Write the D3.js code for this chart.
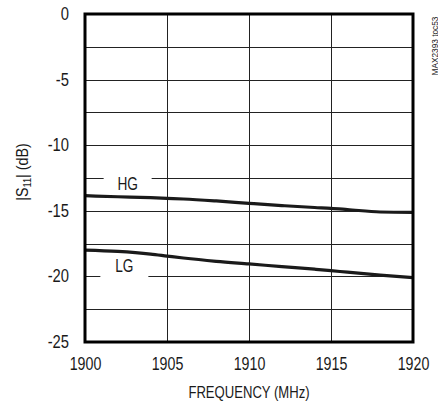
<!DOCTYPE html>
<html>
<head>
<meta charset="utf-8">
<script src="https://cdn.jsdelivr.net/npm/d3@7/dist/d3.min.js"></script>
<style>
  html, body { margin: 0; padding: 0; background: #fff; }
  svg { display: block; }
  text { font-family: "Liberation Sans", Arial, sans-serif; fill: #1a1a1a; }
</style>
</head>
<body>
<script>
// ---- data ----
const frequency = [1900, 1902, 1904, 1905, 1906, 1908, 1910, 1912, 1914, 1915, 1916, 1918, 1920];
const hgValues  = [-13.85, -13.93, -14.0, -14.05, -14.1, -14.25, -14.43, -14.6, -14.75, -14.81, -14.9, -15.09, -15.12];
const lgValues  = [-18.0, -18.1, -18.3, -18.45, -18.6, -18.85, -19.05, -19.25, -19.45, -19.56, -19.68, -19.9, -20.1];
const xTicks = [1900, 1905, 1910, 1915, 1920];
const yTicks = [0, -5, -10, -15, -20, -25];
const yGrid = [-2.5, -5, -7.5, -10, -12.5, -15, -17.5, -20, -22.5];
const seriesLabels = [
  { name: "HG", x: 1902.6, y: -12.91 },
  { name: "LG", x: 1902.4, y: -19.2 }
];

(function () {
const W = 438, H = 405;
const mLeft = 85, mRight = 413, mTop = 14, mBottom = 342;
const SQ = 0.8; // horizontal condensing of text (narrow typeface look)

function condense(sel, f) {
  sel.each(function () {
    const len = this.getComputedTextLength();
    d3.select(this).attr("textLength", len * (f || SQ)).attr("lengthAdjust", "spacingAndGlyphs");
  });
}

const svg = d3.select("body").append("svg").attr("width", W).attr("height", H);

const x = d3.scaleLinear().domain([1900, 1920]).range([mLeft, mRight]);
const y = d3.scaleLinear().domain([-25, 0]).range([mBottom, mTop]);

// grid
svg.append("g").selectAll("line").data(yGrid).join("line")
  .attr("x1", mLeft).attr("x2", mRight)
  .attr("y1", d => Math.round(y(d)) + 0.5).attr("y2", d => Math.round(y(d)) + 0.5)
  .attr("stroke", "#222").attr("stroke-width", 1);
svg.append("g").selectAll("line").data(xTicks.slice(1, -1)).join("line")
  .attr("y1", mTop).attr("y2", mBottom)
  .attr("x1", d => Math.round(x(d)) + 0.5).attr("x2", d => Math.round(x(d)) + 0.5)
  .attr("stroke", "#222").attr("stroke-width", 1);

// label backgrounds (break gridlines)
seriesLabels.forEach(s => {
  svg.append("rect")
    .attr("x", x(s.x) - 24).attr("y", y(s.y) - 12)
    .attr("width", 48).attr("height", 24)
    .attr("fill", "#fff");
});

// lines
const line = d3.line().x((d, i) => x(frequency[i])).y(d => y(d)).curve(d3.curveMonotoneX);
[hgValues, lgValues].forEach(vals => {
  svg.append("path").datum(vals).attr("d", line)
    .attr("fill", "none").attr("stroke", "#1a1a1a").attr("stroke-width", 3.2);
});

// series labels
seriesLabels.forEach(s => {
  const t = svg.append("text").attr("x", x(s.x)).attr("y", y(s.y) + 6.5)
    .attr("text-anchor", "middle").attr("font-size", 18).text(s.name);
  condense(t, 0.76);
});

// frame
svg.append("rect").attr("x", mLeft).attr("y", mTop)
  .attr("width", mRight - mLeft).attr("height", mBottom - mTop)
  .attr("fill", "none").attr("stroke", "#000").attr("stroke-width", 3);

// axes (tick labels only)
const xAxis = d3.axisBottom(x).tickValues(xTicks).tickSize(0).tickPadding(0).tickFormat(d3.format("d"));
const gx = svg.append("g").attr("transform", `translate(0,${mBottom})`).call(xAxis);
gx.select(".domain").remove();
gx.attr("font-family", null).attr("font-size", null);
const xt = gx.selectAll("text").attr("font-size", 18).attr("dy", null).attr("y", 28).attr("fill", "#1a1a1a");
condense(xt, 0.79);

const yAxis = d3.axisLeft(y).tickValues(yTicks).tickSize(0).tickPadding(0).tickFormat(d => String(d));
const gy = svg.append("g").attr("transform", `translate(${mLeft},0)`).call(yAxis);
gy.select(".domain").remove();
gy.attr("font-family", null).attr("font-size", null);
const ytk = gy.selectAll("text").attr("font-size", 18).attr("x", -16).attr("dy", "0.3em").attr("fill", "#1a1a1a");
condense(ytk, 0.82);

// axis titles
const xtitle = svg.append("text").attr("x", 249).attr("y", 398).attr("text-anchor", "middle")
  .attr("font-size", 17).text("FREQUENCY (MHz)");
condense(xtitle, 0.77);

const yt = svg.append("text").attr("transform", "translate(28,172) rotate(-90) scale(0.84,1)")
  .attr("text-anchor", "middle").attr("font-size", 17);
yt.append("tspan").text("|S");
yt.append("tspan").attr("font-size", 11).attr("dy", 3).text("11");
yt.append("tspan").attr("dy", -3).text("| (dB)");

// figure id
const fid = svg.append("text").attr("transform", "translate(437.5,46) rotate(-90)")
  .attr("text-anchor", "middle").attr("font-size", 9)
  .text("MAX2393 toc53");
condense(fid, 0.92);
})();
</script>
</body>
</html>
